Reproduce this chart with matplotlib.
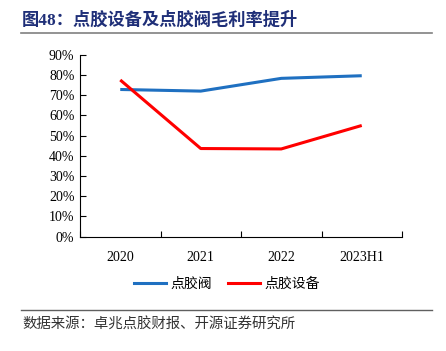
import matplotlib
matplotlib.use("Agg")
import matplotlib.pyplot as plt
from matplotlib.lines import Line2D

categories = ["2020", "2021", "2022", "2023H1"]
valve = [72.8, 72.0, 78.3, 79.6]       # 点胶阀
equipment = [77.5, 43.6, 43.4, 55.0]   # 点胶设备
yticks = [0, 10, 20, 30, 40, 50, 60, 70, 80, 90]

cjk = ["Noto Sans CJK SC", "DejaVu Sans"]
serif = ["Liberation Serif", "Noto Sans CJK SC"]

W, H = 446, 351
fig = plt.figure(figsize=(W / 100, H / 100), dpi=100)

def fx(px):
    return px / W

def fy(py):
    return 1 - py / H

ax = fig.add_axes([fx(80), fy(236.7), fx(402) - fx(80), fy(54.7) - fy(236.7)])
x = list(range(len(categories)))
ax.plot(x, valve, color="#1F70C1", lw=2.2, solid_capstyle="butt")
ax.plot(x, equipment, color="#FF0000", lw=2.2, solid_capstyle="butt")

ax.set_xlim(-0.5, len(categories) - 0.5)
ax.set_ylim(0, 90)
ax.set_yticks(yticks)
ax.set_yticklabels([f"{v}%" for v in yticks], fontfamily=serif, fontsize=10)
ax.set_xticks([i - 0.5 for i in range(len(categories) + 1)], minor=False)
ax.set_xticklabels([])
ax.set_xticks(x, minor=True)
ax.set_xticklabels(categories, minor=True, fontfamily=serif, fontsize=10)
ax.tick_params(axis="x", which="minor", length=0, pad=10)
ax.tick_params(axis="x", which="major", length=4, direction="in", width=0.8)
ax.tick_params(axis="y", length=4, direction="in", width=0.8, pad=4)
for s in ["top", "right"]:
    ax.spines[s].set_visible(False)
for s in ["left", "bottom"]:
    ax.spines[s].set_linewidth(0.8)
    ax.spines[s].set_color("black")

handles = [Line2D([], [], color="#1F70C1", lw=2.2),
           Line2D([], [], color="#FF0000", lw=2.2)]
fig.legend(handles, ["点胶阀", "点胶设备"], loc="center",
           bbox_to_anchor=(fx(227), fy(284)), ncol=2, frameon=False,
           prop={"family": cjk, "size": 10}, handlelength=2.3,
           columnspacing=1.2, handletextpad=0.3)

fig.text(fx(22), fy(20), "图48：点胶设备及点胶阀毛利率提升", fontfamily=serif,
         fontsize=12.4, fontweight="bold", color="#1F2F78", va="center", ha="left")
fig.add_artist(Line2D([fx(21), fx(432)], [fy(33), fy(33)], color="#808080", lw=1.2))
fig.add_artist(Line2D([fx(21), fx(432)], [fy(310), fy(310)], color="#606060", lw=1.0))
fig.text(fx(22), fy(325), "数据来源：卓兆点胶财报、开源证券研究所", fontfamily=cjk,
         fontsize=10.4, color="#333333", va="center", ha="left")

fig.savefig("out.png", dpi=100)
